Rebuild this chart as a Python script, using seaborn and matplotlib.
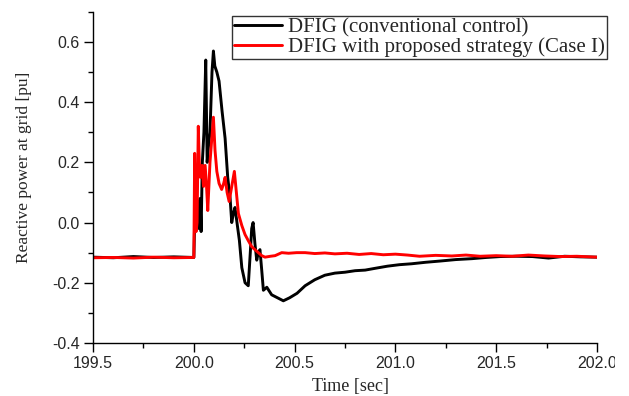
import numpy as np
import pandas as pd
import matplotlib
matplotlib.use("Agg")
import matplotlib.pyplot as plt
from matplotlib.transforms import Bbox, TransformedBbox
import seaborn as sns

# Reactive power response at the grid during a fault at t = 200 s
time_conv = [199.50, 199.60, 199.70, 199.80, 199.90, 200.000, 200.006, 200.014, 200.020,
             200.026, 200.031, 200.036, 200.042, 200.050, 200.059, 200.066, 200.072,
             200.080, 200.090, 200.097, 200.104, 200.114, 200.125, 200.140, 200.155,
             200.168, 200.180, 200.188, 200.196, 200.204, 200.214, 200.226, 200.238,
             200.254, 200.270, 200.280, 200.287, 200.294, 200.303, 200.312, 200.320,
             200.328, 200.337, 200.345, 200.362, 200.386, 200.415, 200.444, 200.475,
             200.512, 200.552, 200.600, 200.650, 200.700, 200.750, 200.800, 200.850,
             200.900, 200.960, 201.020, 201.080, 201.150, 201.220, 201.300, 201.380,
             201.450, 201.520, 201.600, 201.680, 201.760, 201.840, 201.920, 202.000]
q_conv = [-0.115, -0.117, -0.113, -0.116, -0.114, -0.116, 0.06, -0.01, 0.07,
          -0.02, 0.08, -0.03, 0.20, 0.30, 0.54, 0.20, 0.25,
          0.30, 0.50, 0.57, 0.52, 0.50, 0.47, 0.37, 0.28,
          0.15, 0.08, 0.00, 0.03, 0.05, 0.00, -0.06, -0.15,
          -0.20, -0.21, -0.10, -0.02, 0.00, -0.07, -0.125, -0.10,
          -0.09, -0.16, -0.225, -0.215, -0.24, -0.25, -0.26, -0.25,
          -0.235, -0.21, -0.19, -0.175, -0.168, -0.165, -0.16, -0.158,
          -0.152, -0.145, -0.14, -0.137, -0.132, -0.128, -0.123, -0.12,
          -0.116, -0.113, -0.112, -0.113, -0.118, -0.112, -0.114, -0.115]

time_prop = [199.50, 199.60, 199.70, 199.80, 199.90, 200.000, 200.004, 200.011, 200.016,
             200.022, 200.027, 200.033, 200.041, 200.048, 200.056, 200.063, 200.069,
             200.080, 200.097, 200.105, 200.114, 200.125, 200.138, 200.148, 200.155,
             200.165, 200.175, 200.188, 200.201, 200.211, 200.221, 200.238, 200.254,
             200.270, 200.287, 200.303, 200.320, 200.337, 200.353, 200.380, 200.403,
             200.436, 200.470, 200.510, 200.552, 200.600, 200.650, 200.700, 200.760,
             200.820, 200.880, 200.940, 201.000, 201.060, 201.120, 201.200, 201.280,
             201.350, 201.420, 201.500, 201.580, 201.660, 201.740, 201.820, 201.900,
             202.000]
q_prop = [-0.117, -0.116, -0.118, -0.115, -0.117, -0.116, 0.23, -0.03, 0.00,
          0.32, 0.20, 0.15, 0.19, 0.12, 0.19, 0.12, 0.04,
          0.20, 0.35, 0.24, 0.17, 0.13, 0.11, 0.13, 0.15,
          0.10, 0.07, 0.12, 0.17, 0.10, 0.03, -0.01, -0.04,
          -0.06, -0.08, -0.09, -0.10, -0.11, -0.115, -0.112, -0.11,
          -0.10, -0.102, -0.10, -0.10, -0.103, -0.101, -0.104, -0.102,
          -0.106, -0.103, -0.107, -0.105, -0.108, -0.112, -0.109, -0.111,
          -0.108, -0.112, -0.110, -0.112, -0.108, -0.111, -0.113, -0.112,
          -0.115]

labels = ["DFIG (conventional control)", "DFIG with proposed strategy (Case I)"]
x_ticks = [199.5, 200.0, 200.5, 201.0, 201.5, 202.0]
y_ticks = [-0.4, -0.2, 0.0, 0.2, 0.4, 0.6]

df = pd.concat([
    pd.DataFrame({"t": time_conv, "q": q_conv, "case": labels[0]}),
    pd.DataFrame({"t": time_prop, "q": q_prop, "case": labels[1]}),
], ignore_index=True)

sns.set_style("ticks")
fig = plt.figure(figsize=(6.29, 3.96), dpi=100)
ax = fig.add_axes([0.148, 0.134, 0.801, 0.836])

sns.lineplot(data=df, x="t", y="q", hue="case", sort=False,
             palette={labels[0]: "black", labels[1]: "#ff0000"},
             linewidth=2.1, ax=ax, legend=True)

ax.set_xlim(199.5, 202.0)
ax.set_ylim(-0.4, 0.7)
ax.set_xticks(x_ticks)
ax.set_yticks(y_ticks)
ax.set_xticklabels([f"{v:.1f}" for v in x_ticks], fontfamily="Liberation Sans", fontsize=11.5)
ax.set_yticklabels([f"{v:.1f}" for v in y_ticks], fontfamily="Liberation Sans", fontsize=11.5)
ax.set_xticks(np.arange(199.5, 202.01, 0.25), minor=True)
ax.set_yticks(np.arange(-0.4, 0.71, 0.1), minor=True)
ax.tick_params(axis="both", which="major", length=6.5, width=1, color="black",
               direction="out", pad=3)
ax.tick_params(axis="both", which="minor", length=3.5, width=1, color="black", direction="out")
for side in ["top", "right"]:
    ax.spines[side].set_visible(False)
for side in ["left", "bottom"]:
    ax.spines[side].set_color("black")
    ax.spines[side].set_linewidth(1.0)

# the last x tick label runs past the right edge of the canvas
edge_clip = TransformedBbox(Bbox([[0.0, 0.0], [615 / 629, 1.0]]), fig.transFigure)
for lbl in ax.get_xticklabels():
    lbl.set_clip_on(True)
    lbl.set_clip_box(edge_clip)

ax.set_xlabel("Time [sec]", fontfamily="Liberation Serif", fontsize=13)
ax.xaxis.set_label_coords(0.51, -0.105)
ax.set_ylabel("Reactive power at grid [pu]", fontfamily="Liberation Serif", fontsize=12.5)
ax.yaxis.set_label_coords(-0.122, 0.53)

handles, _ = ax.get_legend_handles_labels()
leg = ax.legend(handles, labels, loc="upper left", bbox_to_anchor=(0.276, 0.988),
                frameon=True, fancybox=False, borderpad=0.1, labelspacing=0.0,
                handlelength=2.3, handletextpad=0.3, borderaxespad=0.0,
                prop={"family": "Liberation Serif", "size": 15})
leg.get_frame().set_edgecolor("black")
leg.get_frame().set_linewidth(1.0)
for line in leg.get_lines():
    line.set_linewidth(2.1)

fig.savefig("out.png", dpi=100)
